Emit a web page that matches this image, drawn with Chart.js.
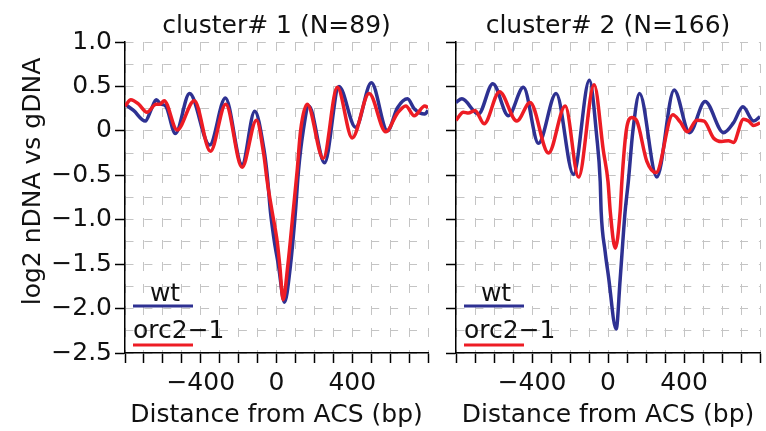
<!DOCTYPE html>
<html>
<head>
<meta charset="utf-8">
<script src="https://cdn.jsdelivr.net/npm/chart.js@4.4.1/dist/chart.umd.min.js"></script>
<style>
  html, body { margin: 0; padding: 0; background: #fff; }
  #wrap { position: relative; width: 766px; height: 431px; }
  #wrap canvas { position: absolute; top: 0; }
  #left { left: 0; }
  #right { left: 440px; }
</style>
</head>
<body>
<div id="wrap">
  <canvas id="left" width="440" height="431"></canvas>
  <canvas id="right" width="326" height="431"></canvas>
</div>
<script>
// cluster 1: position relative to ACS (bp) and log2 nDNA/gDNA
const c1WtPos  = [-800, -755, -693, -660, -635, -610, -585, -534, -459, -353, -270, -182, -115, -67, -49, -32, -21, -11, 10, 42, 74, 100, 116, 141, 171, 254, 330, 418, 501, 586, 639, 692, 727, 783, 800];
const c1WtVal  = [0.30, 0.23, 0.11, 0.25, 0.35, 0.30, 0.28, -0.03, 0.42, -0.16, 0.37, -0.38, 0.22, -0.20, -0.50, -0.91, -1.10, -1.25, -1.51, -1.93, -1.51, -0.91, -0.45, 0, 0.28, -0.36, 0.50, 0.04, 0.54, 0.00, 0.26, 0.36, 0.25, 0.19, 0.23];
const c1OrcPos = [-800, -769, -728, -684, -636, -615, -593, -525, -434, -349, -268, -182, -106, -67, -49, -23, 4, 17, 35, 60, 88, 109, 127, 162, 247, 321, 400, 489, 577, 639, 683, 727, 783, 800];
const c1OrcVal = [0.28, 0.35, 0.30, 0.21, 0.30, 0.30, 0.34, 0.01, 0.34, -0.23, 0.30, -0.41, 0.12, -0.27, -0.57, -0.91, -1.25, -1.51, -1.90, -1.51, -0.91, -0.45, 0, 0.30, -0.31, 0.49, -0.08, 0.42, -0.01, 0.20, 0.28, 0.17, 0.28, 0.26];

// cluster 2
const c2WtPos  = [-800, -769, -682, -606, -524, -445, -366, -273, -182, -98, -59, -41, -36, -15, 2, 43, 64, 90, 107, 131, 166, 257, 348, 429, 511, 608, 660, 710, 766, 800];
const c2WtVal  = [0.32, 0.36, 0.19, 0.53, 0.17, 0.49, -0.14, 0.42, -0.49, 0.57, -0.07, -0.57, -0.91, -1.36, -1.63, -2.23, -1.67, -0.91, -0.57, 0, 0.42, -0.52, 0.46, -0.02, 0.33, -0.02, 0.09, 0.27, 0.11, 0.16];
const c2OrcPos = [-800, -761, -735, -700, -652, -571, -480, -410, -313, -225, -155, -73, -24, 0, 12, 38, 64, 73, 96, 125, 152, 204, 253, 341, 380, 418, 467, 506, 555, 599, 634, 660, 713, 740, 766, 800];
const c2OrcVal = [0.12, 0.21, 0.20, 0.23, 0.08, 0.44, 0.11, 0.32, -0.25, 0.28, -0.52, 0.52, -0.23, -0.57, -0.91, -1.32, -0.91, -0.57, 0, 0.15, 0.11, -0.34, -0.47, 0.18, 0.10, -0.01, 0.12, 0.11, -0.08, -0.12, -0.11, -0.13, 0.13, 0.11, 0.06, 0.09];

const yTicks = [1.0, 0.5, 0, -0.5, -1.0, -1.5, -2.0, -2.5];
const xTicks = [-400, 0, 400];

const FONT = '"DejaVu Sans", sans-serif';
const FONT_SIZE = 25;
const TEXT = '#111';
const WT_COLOR = '#2e3192';
const ORC_COLOR = '#ed1c24';
const GRID = '#c4c4c4';

function fmt(v) {
    return v === 0 ? '0' : String(v < 0 ? '\u2212' : '') + Math.abs(v).toFixed(Number.isInteger(v) && Math.abs(v) >= 100 ? 0 : 1);
}

function isYLabel(v) {
    return yTicks.some(t => Math.abs(t - v) < 1e-6);
}

function zip(xs, ys) {
    return xs.map((x, i) => ({ x: x, y: ys[i] }));
}

// legend drawn inside the plot, label text sitting above each line sample
const legendInside = {
    id: 'legendInside',
    afterDatasetsDraw(chart) {
        const ctx = chart.ctx;
        const { left, bottom } = chart.chartArea;
        const sets = chart.data.datasets;

        ctx.save();
        ctx.font = FONT_SIZE + 'px ' + FONT;
        ctx.fillStyle = TEXT;
        ctx.textBaseline = 'alphabetic';
        ctx.lineWidth = 3;

        ctx.strokeStyle = sets[0].borderColor;
        ctx.beginPath();
        ctx.moveTo(left + 8, bottom - 47);
        ctx.lineTo(left + 68, bottom - 47);
        ctx.stroke();
        ctx.textAlign = 'center';
        ctx.fillText(sets[0].label, left + 40, bottom - 52);

        ctx.strokeStyle = sets[1].borderColor;
        ctx.beginPath();
        ctx.moveTo(left + 8, bottom - 8);
        ctx.lineTo(left + 68, bottom - 8);
        ctx.stroke();
        ctx.textAlign = 'left';
        ctx.fillText(sets[1].label, left + 8, bottom - 15);
        ctx.restore();
    }
};

const yTitle = {
    id: 'yTitle',
    afterDraw(chart) {
        const ctx = chart.ctx;
        ctx.save();
        ctx.translate(33, chart.chartArea.top + 139.5);
        ctx.rotate(-Math.PI / 2);
        ctx.font = FONT_SIZE + 'px ' + FONT;
        ctx.fillStyle = TEXT;
        ctx.textAlign = 'center';
        ctx.textBaseline = 'middle';
        ctx.fillText('log2 nDNA vs gDNA', 0, 0);
        ctx.restore();
    }
};

function makePanel(canvasId, title, wt, orc, withYLabels) {
    const plugins = [legendInside];
    if (withYLabels) plugins.push(yTitle);

    return new Chart(document.getElementById(canvasId), {
        type: 'line',
        data: {
            datasets: [{
                label: 'wt',
                data: wt,
                borderColor: WT_COLOR,
                borderWidth: 3.5,
                pointRadius: 0,
                cubicInterpolationMode: 'monotone',
                order: 1
            }, {
                label: 'orc2\u22121',
                data: orc,
                borderColor: ORC_COLOR,
                borderWidth: 3.5,
                pointRadius: 0,
                cubicInterpolationMode: 'monotone',
                order: 0
            }]
        },
        options: {
            responsive: false,
            animation: false,
            devicePixelRatio: 1,
            layout: {
                padding: { left: 0, right: withYLabels ? 12 : 6, top: 0, bottom: 0 }
            },
            plugins: {
                legend: { display: false },
                tooltip: { enabled: false },
                title: {
                    display: true,
                    text: title,
                    fullSize: false,
                    color: TEXT,
                    font: { family: FONT, size: FONT_SIZE, weight: 'normal' },
                    padding: { top: 11, bottom: 1 }
                }
            },
            scales: {
                x: {
                    type: 'linear',
                    min: -800,
                    max: 800,
                    afterFit(scale) { scale.height = 78; },
                    // border.dash dashes the grid lines, the axis line stays solid
                    border: { display: true, color: '#000', width: 1.5, dash: [9, 13] },
                    grid: {
                        color: GRID,
                        lineWidth: 1,
                        drawTicks: true,
                        tickLength: 10,
                        tickColor: '#000',
                        tickWidth: 1.5,
                        tickBorderDash: []
                    },
                    ticks: {
                        stepSize: 100,
                        autoSkip: false,
                        maxRotation: 0,
                        padding: 5,
                        color: TEXT,
                        font: { family: FONT, size: FONT_SIZE },
                        callback: v => xTicks.includes(v) ? fmt(v) : ''
                    },
                    title: {
                        display: true,
                        text: 'Distance from ACS (bp)',
                        color: TEXT,
                        font: { family: FONT, size: FONT_SIZE },
                        padding: { top: 0, bottom: 1 }
                    }
                },
                y: {
                    min: -2.5,
                    max: 1.0,
                    afterFit(scale) { scale.width = withYLabels ? 125 : 16; },
                    border: { display: true, color: '#000', width: 1.5, dash: [8, 10.9] },
                    grid: {
                        color: GRID,
                        lineWidth: 1,
                        drawTicks: true,
                        tickLength: 10,
                        tickWidth: 1.5,
                        tickBorderDash: [],
                        tickColor: c => isYLabel(c.tick.value) ? '#000' : 'rgba(0,0,0,0)'
                    },
                    ticks: {
                        display: withYLabels,
                        stepSize: 0.25,
                        autoSkip: false,
                        padding: 3,
                        color: TEXT,
                        font: { family: FONT, size: FONT_SIZE },
                        callback: v => isYLabel(v) ? fmt(v) : ''
                    }
                }
            }
        },
        plugins: plugins
    });
}

makePanel('left', 'cluster# 1 (N=89)', zip(c1WtPos, c1WtVal), zip(c1OrcPos, c1OrcVal), true);
makePanel('right', 'cluster# 2 (N=166)', zip(c2WtPos, c2WtVal), zip(c2OrcPos, c2OrcVal), false);
</script>
</body>
</html>
